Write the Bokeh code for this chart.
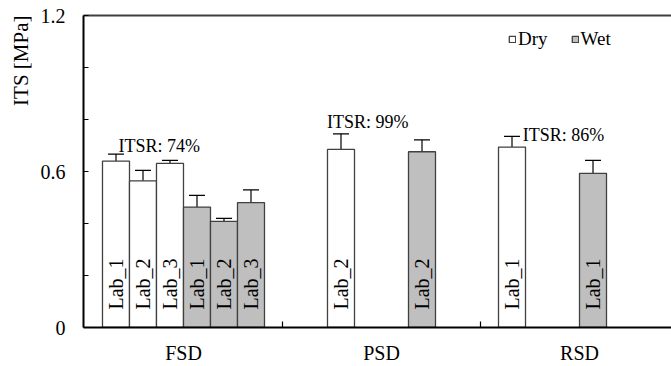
import math
from bokeh.plotting import figure
from bokeh.models import (ColumnDataSource, FixedTicker, LinearAxis, Range1d, Whisker,
                          Legend, LegendItem, Title, Label)
from bokeh.core.properties import value
from bokeh.embed import file_html
from bokeh.resources import INLINE

# ---------------- data ----------------
categories = ["FSD", "PSD", "RSD"]
lab_names = ["Lab_1", "Lab_2", "Lab_3"]
conditions = ["Dry", "Wet"]

bar_group = ["FSD", "FSD", "FSD", "FSD", "FSD", "FSD", "PSD", "PSD", "RSD", "RSD"]
bar_cond = ["Dry", "Dry", "Dry", "Wet", "Wet", "Wet", "Dry", "Wet", "Dry", "Wet"]
bar_lab = ["Lab_1", "Lab_2", "Lab_3", "Lab_1", "Lab_2", "Lab_3", "Lab_2", "Lab_2", "Lab_1", "Lab_1"]
its_mean = [0.640, 0.564, 0.631, 0.463, 0.408, 0.480, 0.685, 0.676, 0.694, 0.593]
its_err = [0.027, 0.040, 0.012, 0.045, 0.012, 0.049, 0.060, 0.046, 0.041, 0.050]

itsr_text = ["ITSR: 74%", "ITSR: 99%", "ITSR: 86%"]

y_label_ticks = [0, 0.6, 1.2]
y_minor_ticks = [0.2, 0.4, 0.8, 1.0]
y_axis_title = "ITS [MPa]"

# ---------------- layout / style ----------------
FONT = "serif"
SLOT = 27.0 / 198.0           # bar width in category units
itsr_pos = [(-0.122, 0.698), (0.931, 0.790), (1.919, 0.740)]
DRY_FILL = "white"
WET_FILL = "#bfbfbf"
EDGE = "#404040"

def slot_x(group, cond, lab):
    k = (0 if cond == "Dry" else 3) + lab_names.index(lab)
    return categories.index(group) + (k - 2.5) * SLOT

xs = [slot_x(g, c, l) for g, c, l in zip(bar_group, bar_cond, bar_lab)]
src = ColumnDataSource(dict(
    x=xs, top=its_mean, cond=bar_cond, lab=bar_lab,
    upper=[m + e for m, e in zip(its_mean, its_err)],
    lower=[m - e for m, e in zip(its_mean, its_err)],
))

p = figure(width=671, height=366, output_backend="svg", toolbar_location=None,
           x_range=Range1d(-0.505, 2.4646), y_range=Range1d(0, 1.2),
           min_border_left=83, min_border_top=15, min_border_bottom=38, min_border_right=0,
           x_axis_type=None, y_axis_type=None)
p.outline_line_color = None
p.grid.visible = False
p.background_fill_color = "white"
p.border_fill_color = "white"

# bars by condition for legend
renderers = {}
for cond in conditions:
    idx = [i for i, c in enumerate(bar_cond) if c == cond]
    s = ColumnDataSource(dict(x=[xs[i] for i in idx], top=[its_mean[i] for i in idx]))
    renderers[cond] = p.vbar(x="x", top="top", bottom=0, width=SLOT, source=s,
                             fill_color=DRY_FILL if cond == "Dry" else WET_FILL,
                             line_color=EDGE, line_width=1.3)

# error bars
w = Whisker(base="x", upper="upper", lower="lower", source=src,
            line_color="black", line_width=1.2)
for h in (w.upper_head, w.lower_head):
    h.size = 16
    h.line_color = "black"
    h.line_width = 1.2
p.add_layout(w)

# lab labels inside bars
p.text(x="x", y=0, text="lab", source=src, angle=math.pi / 2, y_offset=-18,
       text_align="left", text_baseline="middle",
       text_font=value(FONT), text_font_size="20px", text_color="black")

# ITSR annotations
for t, (x, y) in zip(itsr_text, itsr_pos):
    p.add_layout(Label(x=x, y=y, text=t, text_align="center", text_baseline="alphabetic",
                       text_font=FONT, text_font_size="18px", text_color="black"))

# axes
yax = LinearAxis(ticker=FixedTicker(ticks=y_label_ticks, minor_ticks=y_minor_ticks))
yax.major_tick_in = 5
yax.major_tick_out = 0
yax.minor_tick_in = 5
yax.minor_tick_out = 0
yax.axis_line_width = 2
yax.axis_line_color = "black"
yax.major_tick_line_color = "black"
yax.minor_tick_line_color = "black"
yax.major_tick_line_width = 1.2
yax.minor_tick_line_width = 1.2
yax.major_label_standoff = 18
yax.major_label_text_font = FONT
yax.major_label_text_font_size = "20px"
yax.major_label_text_color = "black"
p.add_layout(yax, "left")

xax = LinearAxis(ticker=FixedTicker(ticks=[0, 1, 2], minor_ticks=[0.5, 1.5]))
xax.major_label_overrides = {i: c for i, c in enumerate(categories)}
xax.major_tick_in = 0
xax.major_tick_out = 0
xax.major_tick_line_color = None
xax.minor_tick_in = 6
xax.minor_tick_out = 0
xax.minor_tick_line_color = "black"
xax.minor_tick_line_width = 1.2
xax.axis_line_width = 2
xax.axis_line_color = "black"
xax.major_label_standoff = 14
xax.major_label_text_font = FONT
xax.major_label_text_font_size = "20px"
xax.major_label_text_color = "black"
p.add_layout(xax, "below")

top = LinearAxis(ticker=FixedTicker(ticks=[]))
top.axis_line_width = 2
top.axis_line_color = "#404040"
top.major_tick_line_color = None
top.minor_tick_line_color = None
p.add_layout(top, "above")

ttl = Title(text=y_axis_title, align="right", text_font=FONT, text_font_style="normal",
            text_font_size="21px", text_color="black")
p.add_layout(ttl, "left")

legend = Legend(items=[LegendItem(label=c, renderers=[renderers[c]]) for c in conditions],
                orientation="horizontal", location=(425, 277),
                glyph_width=8, glyph_height=8, label_standoff=2, spacing=23,
                padding=0, margin=0, border_line_color=None, background_fill_alpha=0,
                label_text_font=FONT, label_text_font_size="19px", label_text_color="black")
p.add_layout(legend, "center")

open("out.html", "w").write(file_html(p, INLINE))
